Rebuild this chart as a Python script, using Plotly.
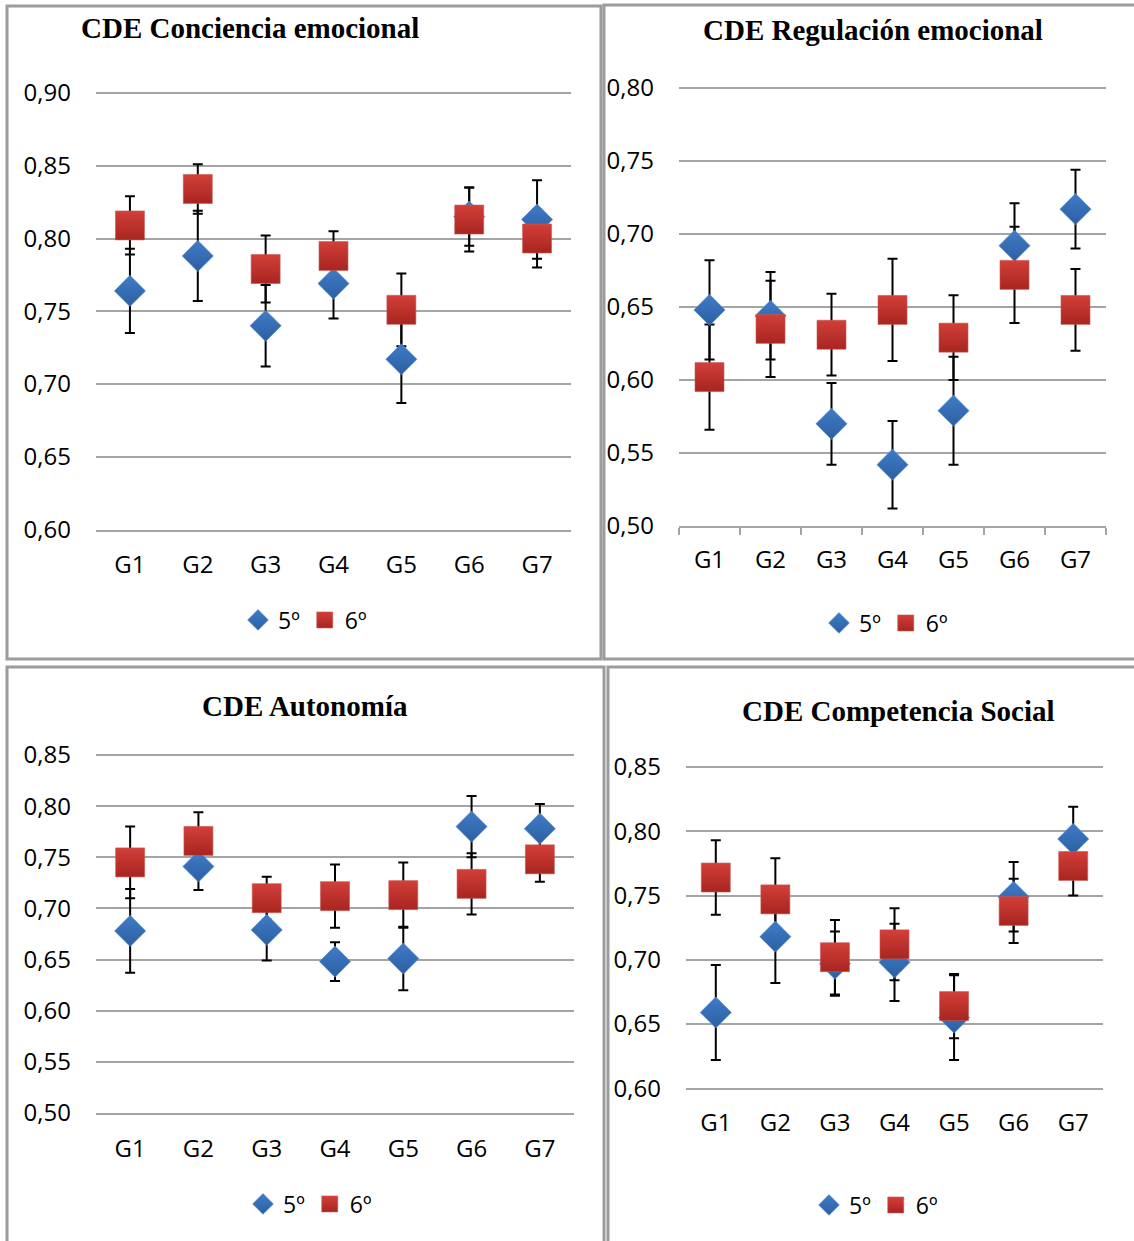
import plotly.graph_objects as go

W, H = 1134, 1241

categories = ["G1", "G2", "G3", "G4", "G5", "G6", "G7"]
series_names = ["5º", "6º"]

# CDE Conciencia emocional
conc_5 = [0.764, 0.788, 0.740, 0.769, 0.717, 0.815, 0.813]
conc_5_err = [0.029, 0.031, 0.028, 0.024, 0.030, 0.020, 0.027]
conc_6 = [0.809, 0.834, 0.779, 0.788, 0.751, 0.813, 0.800]
conc_6_err = [0.020, 0.017, 0.023, 0.017, 0.025, 0.022, 0.020]

# CDE Regulación emocional
reg_5 = [0.648, 0.644, 0.570, 0.542, 0.579, 0.692, 0.717]
reg_5_err = [0.034, 0.030, 0.028, 0.030, 0.037, 0.029, 0.027]
reg_6 = [0.602, 0.635, 0.631, 0.648, 0.629, 0.672, 0.648]
reg_6_err = [0.036, 0.033, 0.028, 0.035, 0.029, 0.033, 0.028]

# CDE Autonomía
aut_5 = [0.678, 0.741, 0.679, 0.648, 0.651, 0.780, 0.778]
aut_5_err = [0.041, 0.023, 0.030, 0.019, 0.031, 0.030, 0.024]
aut_6 = [0.745, 0.766, 0.710, 0.712, 0.713, 0.724, 0.748]
aut_6_err = [0.035, 0.028, 0.021, 0.031, 0.032, 0.030, 0.022]

# CDE Competencia Social
soc_5 = [0.659, 0.718, 0.697, 0.698, 0.655, 0.749, 0.794]
soc_5_err = [0.037, 0.036, 0.025, 0.030, 0.033, 0.027, 0.025]
soc_6 = [0.764, 0.747, 0.702, 0.712, 0.664, 0.738, 0.773]
soc_6_err = [0.029, 0.032, 0.029, 0.028, 0.025, 0.025, 0.023]

titles = ["CDE Conciencia emocional", "CDE Regulación emocional",
          "CDE Autonomía", "CDE Competencia Social"]

panels = [
    dict(title=titles[0], s5=conc_5, e5=conc_5_err, s6=conc_6, e6=conc_6_err,
         yr=(0.60, 0.90), px=(96, 571), py=(93, 529.5), tpos=(250, 28),
         leg=(305, 620), ticks=False, stand=13),
    dict(title=titles[1], s5=reg_5, e5=reg_5_err, s6=reg_6, e6=reg_6_err,
         yr=(0.50, 0.80), px=(679, 1106), py=(88, 526), tpos=(873, 30),
         leg=(886, 623), ticks=True, stand=11),
    dict(title=titles[2], s5=aut_5, e5=aut_5_err, s6=aut_6, e6=aut_6_err,
         yr=(0.50, 0.85), px=(96, 574), py=(755, 1113), tpos=(305, 706),
         leg=(310, 1204), ticks=False, stand=13),
    dict(title=titles[3], s5=soc_5, e5=soc_5_err, s6=soc_6, e6=soc_6_err,
         yr=(0.60, 0.85), px=(686, 1103), py=(767, 1088.3), tpos=(898, 711),
         leg=(876, 1205), ticks=False, stand=12),
]

BLUE = "#3f7cc6"
BLUE2 = "#2c5fa3"
RED = "#d23f38"
RED2 = "#a82520"
GRID = "#a4a4a4"
TICKFONT = dict(family="Open Sans", size=24, color="#000000")

fig = go.Figure()
layout = dict(width=W, height=H,
              margin=dict(l=0, r=0, t=0, b=0, pad=0, autoexpand=False),
              paper_bgcolor="white", plot_bgcolor="white",
              separators=",.", shapes=[], annotations=[])

for i, p in enumerate(panels, start=1):
    xa = "x" if i == 1 else f"x{i}"
    ya = "y" if i == 1 else f"y{i}"
    lg = "legend" if i == 1 else f"legend{i}"
    err_kw = dict(color="black", thickness=2, width=5)
    # error bars drawn beneath markers
    for vals, errs in ((p["s5"], p["e5"]), (p["s6"], p["e6"])):
        fig.add_trace(go.Scatter(
            x=categories, y=vals, mode="markers", xaxis=xa, yaxis=ya,
            marker=dict(size=2, opacity=0), showlegend=False, hoverinfo="skip",
            error_y=dict(type="data", array=errs, visible=True, **err_kw)))
    fig.add_trace(go.Scatter(
        x=categories, y=p["s5"], mode="markers", name=series_names[0],
        xaxis=xa, yaxis=ya, legend=lg,
        marker=dict(symbol="diamond", size=24, color=BLUE,
                    gradient=dict(type="vertical", color=BLUE2),
                    line=dict(width=0.6, color="#5a8fd0"))))
    fig.add_trace(go.Scatter(
        x=categories, y=p["s6"], mode="markers", name=series_names[1],
        xaxis=xa, yaxis=ya, legend=lg,
        marker=dict(symbol="square", size=29, color=RED,
                    gradient=dict(type="vertical", color=RED2),
                    line=dict(width=0.6, color="#c85a55"))))

    x0, x1 = p["px"]
    y0, y1 = p["py"]
    lo, hi = p["yr"]
    ppu = (y1 - y0) / (hi - lo)
    ext = 0.004
    y0e = y0 - ext * ppu
    xkey = "xaxis" if i == 1 else f"xaxis{i}"
    ykey = "yaxis" if i == 1 else f"yaxis{i}"
    xdict = dict(domain=[x0 / W, x1 / W], anchor=ya, type="category",
                 range=[-0.5, len(categories) - 0.5],
                 showgrid=False, showline=True, linecolor=GRID, linewidth=2,
                 tickfont=TICKFONT, fixedrange=True, automargin=False)
    if p["ticks"]:
        xdict.update(tickson="boundaries", ticks="outside", ticklen=7,
                     tickwidth=2, tickcolor=GRID, ticklabelstandoff=p["stand"])
    else:
        xdict.update(ticks="", ticklabelstandoff=p["stand"])
    layout[xkey] = xdict
    layout[ykey] = dict(domain=[1 - y1 / H, 1 - y0e / H], anchor=xa,
                        range=[lo, hi + ext], dtick=0.05, tick0=0,
                        tickformat=".2f", showgrid=True, gridcolor=GRID,
                        gridwidth=2, zeroline=False, showline=False,
                        ticks="", tickfont=TICKFONT, ticklabelstandoff=24,
                        fixedrange=True, automargin=False)
    lx, ly = p["leg"]
    layout[lg] = dict(orientation="h", x=lx / W, y=1 - ly / H,
                      xanchor="center", yanchor="middle",
                      font=dict(family="Open Sans", size=23, color="black"),
                      bgcolor="rgba(0,0,0,0)", itemwidth=30,
                      tracegroupgap=0)
    tx, ty = p["tpos"]
    layout["annotations"].append(dict(
        text=f"<b>{p['title']}</b>", x=tx / W, y=1 - ty / H, xref="paper",
        yref="paper", xanchor="center", yanchor="middle", showarrow=False,
        font=dict(family="Liberation Serif", size=29, color="black")))

# panel frames
frames = [(7, 6, 601, 659), (604, 5, 1145, 659), (7, 667, 604, 1250),
          (608, 667, 1145, 1250)]
for (a, b, c, d) in frames:
    layout["shapes"].append(dict(type="rect", xref="paper", yref="paper",
                                 x0=a / W, x1=c / W, y0=1 - d / H, y1=1 - b / H,
                                 line=dict(color="#9c9c9c", width=3),
                                 fillcolor="rgba(0,0,0,0)", layer="above"))

fig.update_layout(**layout)
fig.write_html("out.html", config=dict(displayModeBar=False),
               post_script="document.body.style.margin='0';"
                           "document.body.style.overflow='hidden';")
